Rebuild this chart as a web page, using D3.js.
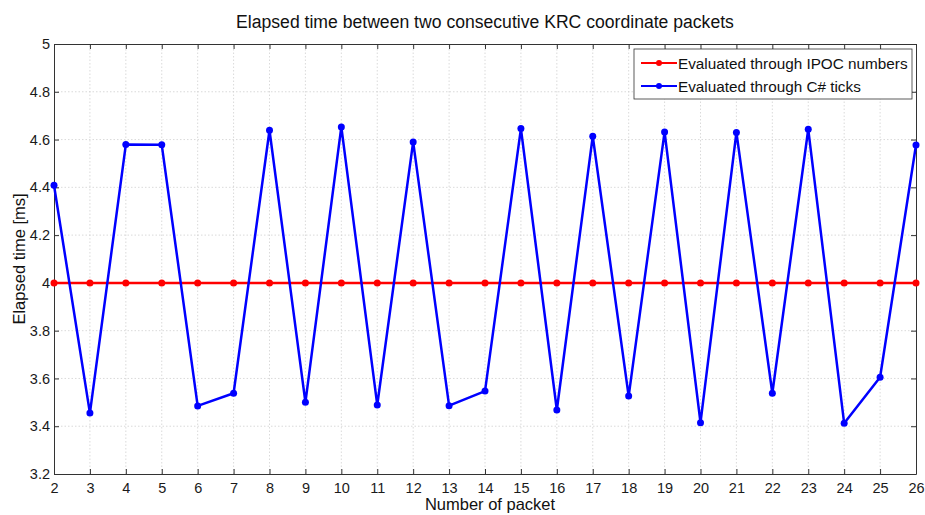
<!DOCTYPE html>
<html>
<head>
<meta charset="utf-8">
<script src="https://cdn.jsdelivr.net/npm/d3@7"></script>
<style>
  html, body { margin: 0; padding: 0; background: #fff; }
  svg { display: block; font-family: "Liberation Sans", Arial, Helvetica, sans-serif; }
</style>
</head>
<body>
<svg id="chart" width="925" height="515"></svg>
<script>
// Packet indices on the x axis
const packets = [2, 3, 4, 5, 6, 7, 8, 9, 10, 11, 12, 13, 14, 15, 16, 17, 18, 19, 20, 21, 22, 23, 24, 25, 26];
// Elapsed time from the IPOC counter (ms)
const ipocValues = [4, 4, 4, 4, 4, 4, 4, 4, 4, 4, 4, 4, 4, 4, 4, 4, 4, 4, 4, 4, 4, 4, 4, 4, 4];
// Elapsed time from C# ticks (ms)
const ticksValues = [4.409, 3.455, 4.579, 4.578, 3.485, 3.538, 4.639, 3.500, 4.653, 3.489, 4.590,
                     3.486, 3.547, 4.646, 3.468, 4.614, 3.526, 4.632, 3.415, 4.630, 3.538,
                     4.643, 3.412, 3.605, 4.577];
const xTicks = d3.range(2, 27, 1);
const yTicks = [3.2, 3.4, 3.6, 3.8, 4, 4.2, 4.4, 4.6, 4.8, 5];
const seriesNames = ["Evaluated through IPOC numbers", "Evaluated through C# ticks"];
const seriesColors = ["#ff0000", "#0000ff"];

const svg = d3.select("#chart");
const m = { left: 54, right: 9, top: 44, bottom: 41 };
const W = 925, H = 515;
const x = d3.scaleLinear().domain([2, 26]).range([m.left, W - m.right]);
const y = d3.scaleLinear().domain([3.2, 5]).range([H - m.bottom, m.top]);

const axisColor = "#333";
const tickLen = 5;

// Dotted grid
const grid = svg.append("g");
grid.selectAll("line.gx").data(xTicks.slice(1, -1)).join("line")
  .attr("x1", d => x(d)).attr("x2", d => x(d))
  .attr("y1", y(3.2)).attr("y2", y(5))
  .attr("stroke", "#d0d0d0").attr("stroke-width", 0.8).attr("stroke-dasharray", "1.5,2");
grid.selectAll("line.gy").data(yTicks.slice(1, -1)).join("line")
  .attr("x1", x(2)).attr("x2", x(26))
  .attr("y1", d => y(d)).attr("y2", d => y(d))
  .attr("stroke", "#d0d0d0").attr("stroke-width", 0.8).attr("stroke-dasharray", "1.5,2");

// Axes with inward ticks on all sides
const fmt = d => d3.format("~g")(d);
const axBottom = svg.append("g").attr("transform", `translate(0,${y(3.2)})`)
  .call(d3.axisBottom(x).tickValues(xTicks).tickFormat(fmt).tickSizeInner(-tickLen).tickSizeOuter(0).tickPadding(8.5));
const axTop = svg.append("g").attr("transform", `translate(0,${y(5)})`)
  .call(d3.axisTop(x).tickValues(xTicks).tickFormat("").tickSizeInner(-tickLen).tickSizeOuter(0));
const axLeft = svg.append("g").attr("transform", `translate(${x(2)},0)`)
  .call(d3.axisLeft(y).tickValues(yTicks).tickFormat(fmt).tickSizeInner(-tickLen).tickSizeOuter(0).tickPadding(4));
const axRight = svg.append("g").attr("transform", `translate(${x(26)},0)`)
  .call(d3.axisRight(y).tickValues(yTicks).tickFormat("").tickSizeInner(-tickLen).tickSizeOuter(0));
[axBottom, axTop, axLeft, axRight].forEach(g => {
  g.selectAll("path.domain").attr("stroke", axisColor).attr("stroke-width", 1);
  g.selectAll(".tick line").attr("stroke", axisColor).attr("stroke-width", 1);
  g.selectAll("text").attr("fill", "#1a1a1a").style("font-size", "14.5px")
    .style("font-family", "'Liberation Sans', Arial, sans-serif");
});

// Series lines with markers
const line = d3.line().x((d, i) => x(packets[i])).y(d => y(d));
[[ipocValues, 0], [ticksValues, 1]].forEach(([vals, k]) => {
  const g = svg.append("g");
  g.append("path").datum(vals).attr("d", line)
    .attr("fill", "none").attr("stroke", seriesColors[k]).attr("stroke-width", 2.5)
    .attr("stroke-linejoin", "round");
  g.selectAll("circle").data(vals).join("circle")
    .attr("cx", (d, i) => x(packets[i])).attr("cy", d => y(d))
    .attr("r", 3.5).attr("fill", seriesColors[k]);
});

// Title and axis labels
svg.append("text").attr("x", 485).attr("y", 28).attr("text-anchor", "middle")
  .style("font-size", "17.6px").attr("fill", "#111")
  .text("Elapsed time between two consecutive KRC coordinate packets");
svg.append("text").attr("x", 490).attr("y", 510).attr("text-anchor", "middle")
  .style("font-size", "16.5px").attr("fill", "#111").text("Number of packet");
svg.append("text").attr("transform", "translate(24.5,259) rotate(-90)").attr("text-anchor", "middle")
  .style("font-size", "16.5px").attr("fill", "#111").text("Elapsed time [ms]");

// Legend
const lg = svg.append("g").attr("transform", "translate(634,49)");
lg.append("rect").attr("width", 278).attr("height", 50)
  .attr("fill", "#fff").attr("stroke", "#333").attr("stroke-width", 0.8);
seriesNames.forEach((name, i) => {
  const cy = 14 + i * 23;
  lg.append("line").attr("x1", 7).attr("x2", 43).attr("y1", cy).attr("y2", cy)
    .attr("stroke", seriesColors[i]).attr("stroke-width", 2);
  lg.append("circle").attr("cx", 25).attr("cy", cy).attr("r", 3).attr("fill", seriesColors[i]);
  lg.append("text").attr("x", 44).attr("y", cy + 5.5).style("font-size", "15.3px").attr("fill", "#111").text(name);
});
</script>
</body>
</html>
